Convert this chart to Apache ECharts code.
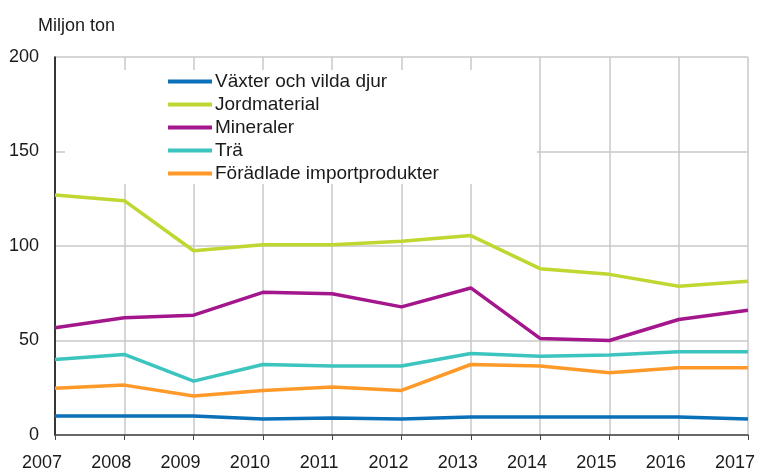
<!DOCTYPE html>
<html>
<head>
<meta charset="utf-8">
<script src="https://cdn.jsdelivr.net/npm/echarts@6/dist/echarts.min.js"></script>
<style>
  html, body { margin: 0; padding: 0; background: #fff; }
  #chart { width: 758px; height: 472px; }
</style>
</head>
<body>
<div id="chart"></div>
<script>
// år
const years = ['2007', '2008', '2009', '2010', '2011', '2012', '2013', '2014', '2015', '2016', '2017']
// miljon ton
const vaxter = [10, 10, 10, 8.5, 9, 8.5, 9.5, 9.5, 9.5, 9.5, 8.5]
const jordmaterial = [127, 124, 97.5, 100.7, 100.7, 102.5, 105.5, 88, 85, 78.7, 81.3]
const mineraler = [56.7, 62, 63.4, 75.5, 74.7, 67.8, 77.8, 51.1, 50, 61.1, 66]
const tra = [40, 42.6, 28.5, 37.3, 36.5, 36.5, 43.1, 41.7, 42.3, 44, 44]
const foradlade = [24.7, 26.4, 20.6, 23.6, 25.4, 23.6, 37.3, 36.5, 32.9, 35.6, 35.6]
const seriesNames = ['Växter och vilda djur', 'Jordmaterial', 'Mineraler', 'Trä', 'Förädlade importprodukter']
const colors = ['#0a70b8', '#bfd730', '#a3168c', '#3cc4bf', '#ff9a2a']

const font = 'Liberation Sans, Arial, sans-serif'
const allData = [vaxter, jordmaterial, mineraler, tra, foradlade]

const chart = echarts.init(document.getElementById('chart'))
chart.setOption({
  animation: false,
  color: colors,
  title: {
    text: 'Miljon ton',
    left: 33,
    top: 12,
    textStyle: { fontFamily: font, fontSize: 18, fontWeight: 'normal', color: '#1a1a1a' }
  },
  legend: {
    orient: 'vertical',
    left: 65,
    top: 70,
    padding: [2, 98, 1, 103],
    backgroundColor: '#fff',
    itemWidth: 44,
    itemHeight: 4,
    itemGap: 4,
    icon: 'rect',
    data: seriesNames,
    textStyle: { fontFamily: font, fontSize: 19, color: '#1a1a1a', padding: [0, 0, 0, -2] }
  },
  grid: { left: 55, right: 9, top: 57, bottom: 36 },
  xAxis: {
    type: 'category',
    data: years,
    boundaryGap: false,
    axisLine: { lineStyle: { color: '#444', width: 1.5 } },
    axisTick: { show: true, length: 5, lineStyle: { color: '#444' } },
    axisLabel: {
      fontFamily: font, fontSize: 18, color: '#1a1a1a',
      margin: 19, padding: [0, 26, 0, 0], interval: 0
    },
    splitLine: { show: true, lineStyle: { color: '#c8c8c8', width: 1.5 } }
  },
  yAxis: {
    type: 'value',
    min: 0,
    max: 200,
    interval: 50,
    axisLine: { show: true, lineStyle: { color: '#000', width: 1.5 } },
    axisTick: { show: false },
    axisLabel: { fontFamily: font, fontSize: 18, color: '#1a1a1a', margin: 16 },
    splitLine: { lineStyle: { color: '#c8c8c8', width: 1.5 } }
  },
  series: seriesNames.map((name, i) => ({
    name: name,
    type: 'line',
    data: allData[i],
    symbol: 'none',
    lineStyle: { width: 3.5 }
  }))
})
</script>
</body>
</html>
